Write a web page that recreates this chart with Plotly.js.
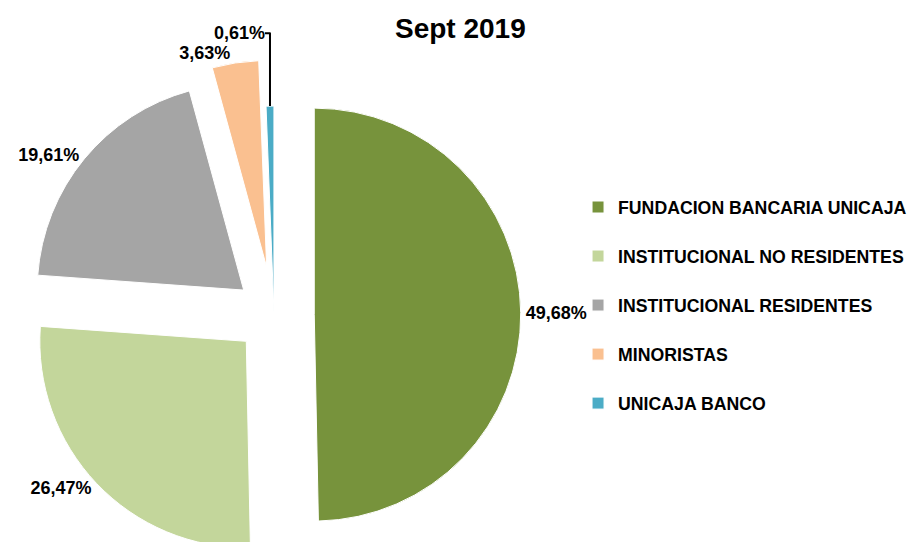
<!DOCTYPE html>
<html>
<head>
<meta charset="utf-8">
<script src="https://cdn.plot.ly/plotly-3.0.1.min.js"></script>
<style>
html, body { margin: 0; padding: 0; width: 908px; height: 542px; overflow: hidden; background: #fff; }
#chart { width: 908px; height: 570px; }
</style>
</head>
<body>
<div id="chart"></div>
<script>
var chartTitle = 'Sept 2019';
var categories = ['FUNDACION BANCARIA UNICAJA', 'INSTITUCIONAL NO RESIDENTES', 'INSTITUCIONAL RESIDENTES', 'MINORISTAS', 'UNICAJA BANCO'];
var shares = [49.68, 26.47, 19.61, 3.63, 0.61];
var sliceColors = ['#77933C', '#C3D69B', '#A5A5A5', '#FAC090', '#4BACC6'];
var pulls = [0.195, 0.185, 0.19, 0.235, 0.012];

var legendLabels = categories.map(function (c) { return c + '<br> '; });

var trace = {
  type: 'pie',
  labels: legendLabels,
  values: shares,
  sort: false,
  direction: 'clockwise',
  rotation: 0,
  pull: pulls,
  marker: { colors: sliceColors, line: { color: '#ffffff', width: 1 } },
  textposition: 'outside',
  texttemplate: '%{value:.2f}%',
  textfont: { family: 'Liberation Sans, Arial, sans-serif', size: 18, weight: 'bold', color: '#000000' },
  hoverinfo: 'none',
  domain: { x: [0, 0.6035], y: [0, 1] }
};

var layout = {
  width: 908,
  height: 570,
  margin: { l: 0, r: 0, t: 60, b: 0, autoexpand: false },
  separators: ',.',
  paper_bgcolor: '#ffffff',
  title: {
    text: chartTitle,
    font: { family: 'Liberation Sans, Arial, sans-serif', size: 28, weight: 'bold', color: '#000000' },
    x: 0.507, xanchor: 'center',
    y: 1 - 28 / 570, yanchor: 'middle'
  },
  showlegend: true,
  legend: {
    x: 0.6366, xanchor: 'left',
    y: 1 - (189 - 60) / 510, yanchor: 'top',
    valign: 'top',
    font: { family: 'Liberation Sans, Arial, sans-serif', size: 17.7, weight: 'bold', color: '#000000' },
    bgcolor: 'rgba(0,0,0,0)'
  }
};

Plotly.newPlot('chart', [trace], layout, { staticPlot: true, displayModeBar: false });
</script>
</body>
</html>
